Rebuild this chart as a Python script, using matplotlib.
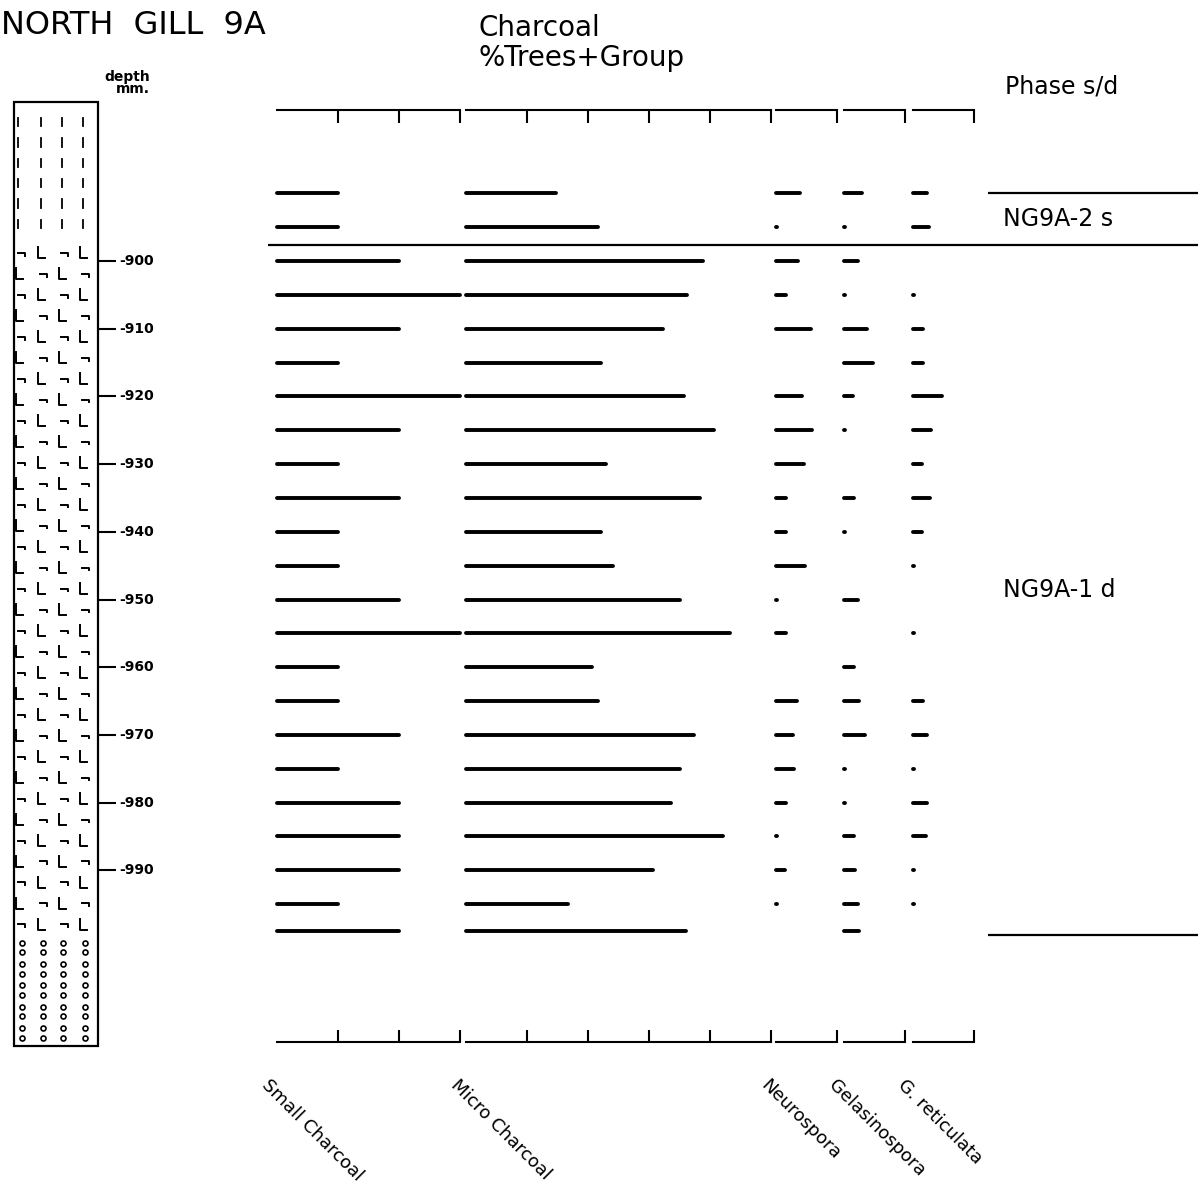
#===============================================================================
import matplotlib.pyplot as plt
from matplotlib.patches import Rectangle

#===============================================================================
# sample depths (mm below datum) and taxon percentages
depths = [890, 895, 900, 905, 910, 915, 920, 925, 930, 935, 940, 945,
          950, 955, 960, 965, 970, 975, 980, 985, 990, 995, 999]

small_charcoal = [10, 10, 20, 30, 20, 10, 30, 20, 10, 20, 10, 10,
                  20, 30, 10, 10, 20, 10, 20, 20, 20, 10, 20]
micro_charcoal = [14.8, 21.6, 38.8, 36.2, 32.3, 22.2, 35.7, 40.7, 23.0, 38.4, 22.1, 24.1,
                  35.1, 43.2, 20.6, 21.7, 37.3, 35.0, 33.6, 42.2, 30.6, 16.7, 36.0]
neurospora = [4.0, 0.2, 3.6, 1.7, 5.8, 0.0, 4.2, 5.9, 4.6, 1.6, 1.6, 4.75,
              0.2, 1.6, 0.0, 3.4, 2.8, 2.9, 1.6, 0.2, 1.5, 0.2, 0.0]
gelasinospora = [2.9, 0.2, 2.3, 0.2, 3.7, 4.75, 1.5, 0.2, 0.0, 1.6, 0.2, 0.0,
                 2.3, 0.0, 1.6, 2.4, 3.5, 0.2, 0.2, 1.6, 1.8, 2.3, 2.5]
g_reticulata = [2.3, 2.7, 0.0, 0.2, 1.7, 1.6, 4.8, 3.0, 1.5, 2.8, 1.5, 0.2,
                0.0, 0.2, 0.0, 1.6, 2.3, 0.2, 2.3, 2.2, 0.2, 0.2, 0.0]

taxa = ["Small Charcoal", "Micro Charcoal", "Neurospora", "Gelasinospora", "G. reticulata"]
taxa_values = [small_charcoal, micro_charcoal, neurospora, gelasinospora, g_reticulata]
taxa_max = [30, 50, 10, 10, 10]

depth_ticks = [900, 910, 920, 930, 940, 950, 960, 970, 980, 990]

phase_names = ["NG9A-2 s", "NG9A-1 d"]
phase_bounds = [890, 897.7, 999.5]

litho_units = [("stripes", 876.5, 897.7), ("limus", 897.7, 1000.3), ("gravel", 1000.3, 1016)]

#===============================================================================
W, H = 1198, 1187
AX_TOP, AX_BOT = 110, 1042          # pixel rows of top / bottom axis lines
PX_PER_MM = 6.77
Y900 = 261                          # pixel row of 900 mm
PX_PER_PCT = 6.1
panel_left = [277, 466, 776, 844, 913]

d_top = 900 - (Y900 - AX_TOP) / PX_PER_MM
d_bot = 900 + (AX_BOT - Y900) / PX_PER_MM

def fx(x):
    return x / W

def fy(y):
    return 1 - y / H

plt.rcParams['font.family'] = ['DejaVu Sans']
fig = plt.figure(figsize=(W / 100, H / 100), dpi=100)

ax_h = (AX_BOT - AX_TOP) / H
ax_b = fy(AX_BOT)

#-------------------------------------------------------------------------------
# background axes: x in pixels, y in depth
bg = fig.add_axes([0, ax_b, 1, ax_h])
bg.set_xlim(0, W)
bg.set_ylim(d_bot, d_top)
bg.axis("off")

# lithology column
bg.add_patch(Rectangle((14, 876.5), 84, 1016 - 876.5, fill=False, lw=1.6,
                       ec="black", clip_on=False))

for kind, top, bottom in litho_units:
    if kind == "stripes":
        d = top + 3.0
        while d < bottom - 1:
            for x in [18, 41, 62, 83]:
                bg.plot([x, x], [d - 0.6, d + 0.6], color="black", lw=1.3, clip_on=False)
            d += 3.0
    elif kind == "limus":
        d = top + 1.1
        row = 0
        while d < bottom - 1:
            if row % 2 == 0:
                glyphs = [("n", 18), ("L", 38), ("n", 61), ("L", 80)]
            else:
                glyphs = [("L", 16), ("n", 40), ("L", 59), ("n", 82)]
            for g, x in glyphs:
                if g == "L":
                    bg.plot([x, x, x + 7], [d - 0.8, d + 0.8, d + 0.8],
                            color="black", lw=1.4, clip_on=False)
                else:
                    bg.plot([x, x + 7, x + 7], [d, d, d + 0.4],
                            color="black", lw=1.4, clip_on=False)
            d += 3.1
            row += 1
    else:
        d = top + 0.4
        while d < bottom - 0.5:
            for dd in [d, d + 1.4]:
                bg.plot([22, 43, 63, 85], [dd] * 4, "o", ms=3.6, mfc="white",
                        mec="black", mew=1.2, ls="none", clip_on=False)
            d += 3.15

# depth scale
bg.hlines(depth_ticks, 98, 116, color="black", lw=1.5)
for d in depth_ticks:
    bg.text(119, d, f"-{d}", ha="left", va="center", fontsize=10, fontweight="bold")

# phase zones
bg.hlines(phase_bounds[1], 268, W, color="black", lw=1.6)
bg.hlines([phase_bounds[0], phase_bounds[2]], 988, W, color="black", lw=1.6)
for name, top, bottom in zip(phase_names, phase_bounds[:-1], phase_bounds[1:]):
    bg.text(1003, (top + bottom) / 2, name, ha="left", va="center", fontsize=17)

#-------------------------------------------------------------------------------
# taxon panels
for name, vals, vmax, left in zip(taxa, taxa_values, taxa_max, panel_left):
    ax = fig.add_axes([fx(left), ax_b, vmax * PX_PER_PCT / W, ax_h])
    ax.patch.set_visible(False)
    ax.set_xlim(0, vmax)
    ax.set_ylim(d_bot, d_top)
    ax.spines["left"].set_visible(False)
    ax.spines["right"].set_visible(False)
    ax.spines["top"].set_linewidth(1.5)
    ax.spines["bottom"].set_linewidth(1.5)
    ax.set_xticks(list(range(10, vmax + 1, 10)))
    ax.set_yticks([])
    ax.tick_params(axis="x", direction="in", top=True, bottom=True, length=9,
                   width=1.5, labelbottom=False, labeltop=False)

    shown = [(d, v) for d, v in zip(depths, vals) if v > 0]
    ax.hlines([d for d, v in shown], 0, [v for d, v in shown], color="black",
              lw=2.8, capstyle="round", clip_on=False)

    fig.text(fx(left - 6), fy(1076), name, rotation=-45, rotation_mode="anchor",
             ha="left", va="top", fontsize=13)

#-------------------------------------------------------------------------------
# titles
fig.text(fx(1), fy(25), "NORTH  GILL  9A", ha="left", va="center", fontsize=23)
fig.text(fx(478), fy(28), "Charcoal", ha="left", va="center", fontsize=20)
fig.text(fx(478), fy(58), "%Trees+Group", ha="left", va="center", fontsize=20)
fig.text(fx(1005), fy(87), "Phase s/d", ha="left", va="center", fontsize=17)
fig.text(fx(150), fy(83), "depth\nmm.", ha="right", va="center", fontsize=10,
         fontweight="bold", linespacing=0.9, multialignment="right")

fig.savefig("out.png", dpi=100)
